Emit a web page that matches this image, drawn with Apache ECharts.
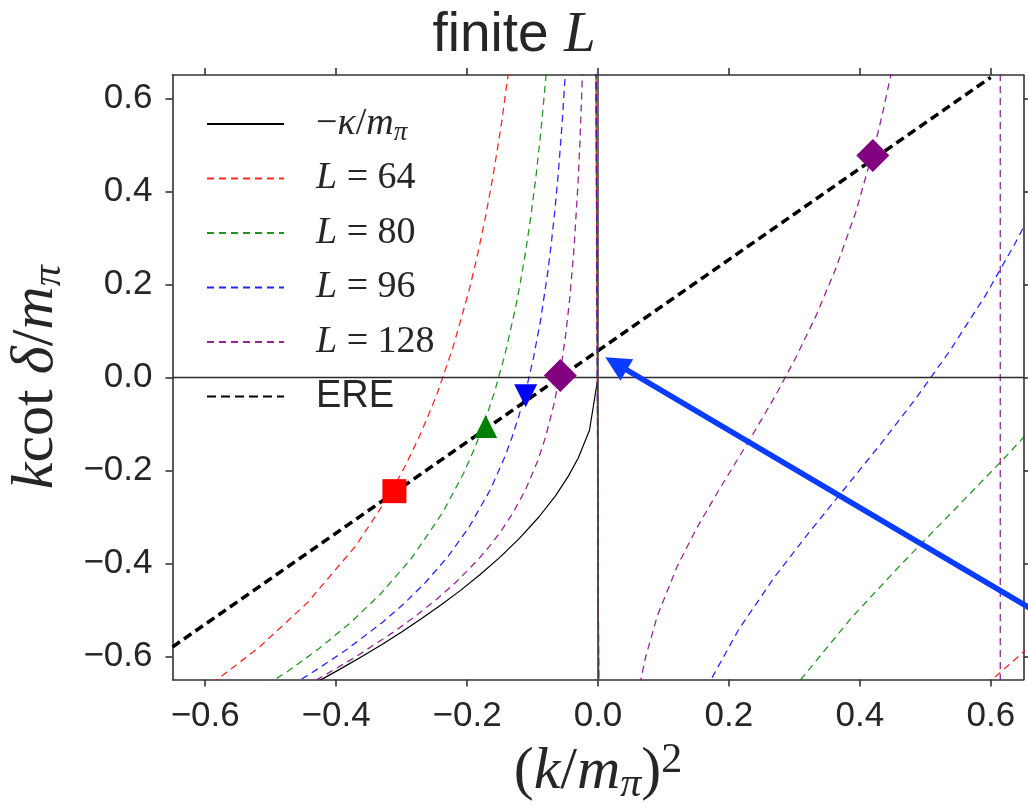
<!DOCTYPE html>
<html><head><meta charset="utf-8">
<script src="https://cdn.jsdelivr.net/npm/echarts@6/dist/echarts.min.js"></script>
<style>html,body{margin:0;padding:0;background:#fff}#c{width:1028px;height:804px}</style>
</head><body><div id="c"></div>
<script>
// ---------------- data ----------------
const xTicks = [-0.6, -0.4, -0.2, 0.0, 0.2, 0.4, 0.6];
const yTicks = [-0.6, -0.4, -0.2, 0.0, 0.2, 0.4, 0.6];
const seriesNames = ['kappa', 'L64', 'L80', 'L96', 'L128', 'ERE'];
const legendLabels = {
  kappa: '{r|−}{i|κ}{r|/}{i|m}{s|π}',
  L64: '{i|L}{r| = 64}',
  L80: '{i|L}{r| = 80}',
  L96: '{i|L}{r| = 96}',
  L128: '{i|L}{r| = 128}',
  ERE: '{ss|ERE}'
};
// -kappa / m_pi
const kappaX = [-0.45,-0.42,-0.39,-0.36,-0.33,-0.30,-0.27,-0.24,-0.21,-0.18,-0.15,-0.12,-0.09,-0.065,-0.045,-0.03,-0.013,0];
const kappaY = [-0.6708,-0.6481,-0.6245,-0.6,-0.5745,-0.5477,-0.5196,-0.4899,-0.4583,-0.4243,-0.3873,-0.3464,-0.3,-0.255,-0.2121,-0.1732,-0.114,0];
// L = 64
const curveL64 = [[-0.6662,-0.7298],[-0.5922,-0.6612],[-0.5182,-0.5815],[-0.4441,-0.4851],[-0.3701,-0.3627],[-0.3208,-0.2580],[-0.2961,-0.1953],[-0.2714,-0.1232],[-0.2467,-0.0389],[-0.2221,0.0615],[-0.1974,0.1842],[-0.1851,0.2566],[-0.1727,0.3385],[-0.1604,0.4321],[-0.1480,0.5403],[-0.1357,0.6671],[-0.1234,0.8189],
  [-0.005,1.3],[0.003,-1.3],
  [0.5815,-0.6768],[0.6058,-0.6457],[0.6542,-0.5855]];
// L = 80
const curveL80 = [[-0.5527,-0.7028],[-0.4737,-0.6322],[-0.4264,-0.5838],[-0.3790,-0.5290],[-0.3316,-0.4652],[-0.2842,-0.3881],[-0.2369,-0.2902],[-0.2053,-0.2064],[-0.1895,-0.1562],[-0.1737,-0.0985],[-0.1579,-0.0311],[-0.1421,0.0492],[-0.1263,0.1473],[-0.1184,0.2053],[-0.1105,0.2708],[-0.1026,0.3457],[-0.0947,0.4323],[-0.0869,0.5337],[-0.0790,0.6551],[-0.0711,0.8009],
  [-0.005,1.3],[0.003,-1.3],
  [0.2326,-0.8202],[0.3101,-0.6495],[0.3877,-0.5165],[0.4652,-0.3992],[0.5428,-0.2872],[0.6203,-0.1746],[0.6978,-0.0568]];
// L = 96
const curveL96 = [[-0.5483,-0.7255],[-0.4935,-0.6832],[-0.4386,-0.6370],[-0.3838,-0.5856],[-0.3290,-0.5269],[-0.2961,-0.4865],[-0.2632,-0.4408],[-0.2303,-0.3876],[-0.1974,-0.3234],[-0.1645,-0.2418],[-0.1426,-0.1720],[-0.1316,-0.1302],[-0.1206,-0.0821],[-0.1097,-0.0260],[-0.0987,0.0410],[-0.0877,0.1228],[-0.0768,0.2257],[-0.0713,0.2881],[-0.0658,0.3602],[-0.0603,0.4447],[-0.0548,0.5459],[-0.0493,0.6674],[-0.0439,0.8190],
  [-0.005,1.3],[0.003,-1.3],
  [0.1615,-0.6835],[0.1723,-0.6509],[0.2154,-0.5413],[0.2693,-0.4304],[0.3231,-0.3326],[0.3769,-0.2393],[0.4307,-0.1455],[0.4846,-0.0473],[0.5384,0.0587],[0.5922,0.1767],[0.6354,0.2834],[0.6462,0.3122],[0.6569,0.3421]];
// L = 128
const curveL128 = [[-0.4626,-0.6764],[-0.4318,-0.6525],[-0.3701,-0.6013],[-0.3084,-0.5442],[-0.2776,-0.5124],[-0.2467,-0.4778],[-0.2159,-0.4392],[-0.1851,-0.3951],[-0.1665,-0.3649],[-0.1480,-0.3306],[-0.1295,-0.2907],[-0.1110,-0.2426],[-0.0925,-0.1814],[-0.0802,-0.1290],[-0.0679,-0.0616],[-0.0617,-0.0195],[-0.0555,0.0308],[-0.0493,0.0921],[-0.0432,0.1693],[-0.0370,0.2702],[-0.0308,0.4094],[-0.0278,0.5006],[-0.0247,0.6143],[-0.0216,0.7595],
  [-0.005,1.3],[0.003,-1.3],
  [0.0606,-0.6831],[0.0727,-0.6019],[0.0908,-0.5126],[0.1212,-0.4060],[0.1514,-0.3228],[0.1818,-0.2495],[0.2120,-0.1795],[0.2423,-0.1091],[0.2726,-0.0355],[0.3028,0.0440],[0.3332,0.1325],[0.3634,0.2342],[0.3938,0.3550],[0.4240,0.5047],[0.4361,0.5762],[0.4483,0.6566],[0.4846,0.9775],
  [0.6140,60],[0.6150,-60],[0.6477,-4.8]];
// effective range expansion
const ereX = [-0.65, 0.6];
const ereY = [-0.58, 0.645];
// markers
const squarePts = [[-0.311, -0.245]];
const triUpPts = [[-0.1716, -0.106]];
const triDownPts = [[-0.1105, -0.040]];
const diamondPts = [[-0.0576, 0.004], [0.4198, 0.4768]];
// annotation arrow (tail, head centre)
const arrowTail = [0.706, -0.535];
const arrowHead = [0.0276, 0.0292];

// ---------------- chart ----------------
const zip = (xs, ys) => xs.map((x, i) => [x, ys[i]]);
const fmt = v => (v < 0 ? '−' : '') + Math.abs(v).toFixed(1);
const SERIF = 'Liberation Serif';
const SANS = 'Liberation Sans';
const TXT = '#262626';
const FRAME = '#333333';

function mathRich(fs, lh, sfs, sh, suph) {
  return {
    r: {fontFamily: SERIF, fontSize: fs, lineHeight: lh, color: TXT, fontWeight: 'normal'},
    i: {fontFamily: SERIF, fontStyle: 'italic', fontSize: fs, lineHeight: lh, color: TXT, fontWeight: 'normal'},
    s: {fontFamily: SERIF, fontStyle: 'italic', fontSize: sfs, lineHeight: sh, verticalAlign: 'bottom', color: TXT, fontWeight: 'normal'},
    p: {fontFamily: SERIF, fontSize: sfs, lineHeight: suph, verticalAlign: 'top', color: TXT, fontWeight: 'normal'},
    ss: {fontFamily: SANS, fontSize: fs, lineHeight: lh, color: TXT, fontWeight: 'normal'}
  };
}

function curve(name, data, color) {
  return {
    type: 'line', name, data, symbol: 'none', showSymbol: false, clip: true,
    silent: true, animation: false, z: 2,
    lineStyle: {color, width: 1.3, type: [7, 5], opacity: 0.85},
    itemStyle: {color}
  };
}

const axisCommon = {
  type: 'value', min: -0.65, max: 0.65,
  axisLine: {show: true, onZero: false, lineStyle: {color: FRAME, width: 1.6}},
  splitLine: {show: false}
};

const option = {
  backgroundColor: '#ffffff',
  animation: false,
  title: {
    text: '{s|finite }{i|L}', left: 'center', top: 6, padding: [0, 0, 0, 168],
    textStyle: {fontWeight: 'normal', rich: {
      s: {fontFamily: SANS, fontSize: 55, lineHeight: 60, color: TXT, fontWeight: 'normal'},
      i: {fontFamily: SERIF, fontStyle: 'italic', fontSize: 57, lineHeight: 60, color: TXT, fontWeight: 'normal'}
    }}
  },
  grid: {left: 172.5, top: 75, width: 851, height: 604.5, containLabel: false, outerBoundsMode: 'none'},
  legend: {
    data: seriesNames, orient: 'vertical', left: 206, top: 102, padding: 0,
    itemWidth: 77, itemHeight: 14, itemGap: 10.5, selectedMode: false,
    itemStyle: {opacity: 0, borderWidth: 0},
    formatter: n => legendLabels[n],
    textStyle: {padding: [0, 0, 0, 27], color: TXT, fontSize: 38, lineHeight: 44,
      rich: mathRich(38, 44, 27, 22, 20)}
  },
  xAxis: [
    Object.assign({}, axisCommon, {
      position: 'bottom',
      axisTick: {show: true, inside: false, length: 7, customValues: xTicks, lineStyle: {color: FRAME, width: 1.6}},
      axisLabel: {customValues: xTicks, formatter: fmt, fontFamily: SANS, fontSize: 35, color: TXT, margin: 19},
      name: '{r|(}{i|k}{r|/}{i|m}{s|π}{r|)}{p|2}', nameLocation: 'middle', nameGap: 60, nameMoveOverlap: false,
      nameTextStyle: {rich: mathRich(60, 66, 42, 32, 36)}
    }),
    Object.assign({}, axisCommon, {
      position: 'top',
      axisTick: {show: true, inside: false, length: 7, customValues: xTicks, lineStyle: {color: FRAME, width: 1.6}},
      axisLabel: {show: false}
    })
  ],
  yAxis: [
    Object.assign({}, axisCommon, {
      position: 'left',
      axisTick: {show: true, inside: false, length: 7, customValues: yTicks, lineStyle: {color: FRAME, width: 1.6}},
      axisLabel: {customValues: yTicks, formatter: fmt, fontFamily: SANS, fontSize: 35, color: TXT, margin: 20},
      name: '{i|k}{r|cot }{i|δ}{r|/}{i|m}{s|π}', nameLocation: 'middle', nameGap: 103, nameRotate: 90, nameMoveOverlap: false,
      nameTextStyle: {rich: mathRich(60, 66, 42, 32, 36)}
    }),
    Object.assign({}, axisCommon, {
      position: 'right',
      axisTick: {show: true, inside: false, length: 7, customValues: yTicks, lineStyle: {color: FRAME, width: 1.6}},
      axisLabel: {show: false}
    })
  ],
  series: [
    {
      type: 'line', name: 'kappa', data: zip(kappaX, kappaY), symbol: 'none', showSymbol: false,
      clip: true, silent: true, z: 2,
      lineStyle: {color: '#000000', width: 1.2, type: 'solid'}, itemStyle: {color: '#000000'}
    },
    curve('L64', curveL64, '#ff0000'),
    curve('L80', curveL80, '#008000'),
    curve('L96', curveL96, '#0000ff'),
    curve('L128', curveL128, '#800080'),
    {
      type: 'line', name: 'ERE', data: zip(ereX, ereY), symbol: 'none', showSymbol: false,
      clip: true, silent: true, z: 3,
      lineStyle: {color: '#000000', width: 3.5, type: [9, 5]}, itemStyle: {color: '#000000'}
    },
    {type: 'scatter', name: 'sq', data: squarePts, symbol: 'rect', symbolSize: 24, itemStyle: {color: '#ff0000', opacity: 1}, z: 5, silent: true},
    {type: 'scatter', name: 'tu', data: triUpPts, symbol: 'triangle', symbolSize: 23, itemStyle: {color: '#008000', opacity: 1}, z: 5, silent: true},
    {type: 'scatter', name: 'td', data: triDownPts, symbol: 'triangle', symbolRotate: 180, symbolSize: 23, itemStyle: {color: '#0000ff', opacity: 1}, z: 5, silent: true},
    {type: 'scatter', name: 'dm', data: diamondPts, symbol: 'diamond', symbolSize: 33, itemStyle: {color: '#800080', opacity: 1}, z: 5, silent: true},
    {
      type: 'line', name: 'annot', data: [], clip: false, silent: true, z: 1,
      markLine: {
        silent: true, animation: false, symbol: ['none', 'none'], label: {show: false},
        emphasis: {disabled: true},
        data: [
          {yAxis: 0, lineStyle: {color: '#2a2a2a', width: 1.3, type: 'solid'}},
          {xAxis: 0, lineStyle: {color: '#444444', width: 1.6, type: 'solid'}}
        ]
      }
    },
    {
      type: 'lines', name: 'arrow', coordinateSystem: 'cartesian2d', xAxisIndex: 0, yAxisIndex: 0,
      clip: false, silent: true, z: 10, animation: false,
      symbol: ['none', 'triangle'], symbolSize: 25,
      lineStyle: {color: '#0a3cff', width: 5.5, type: 'solid', opacity: 1, curveness: 0},
      data: [{coords: [arrowTail, arrowHead]}]
    }
  ]
};

const chart = echarts.init(document.getElementById('c'), null, {renderer: 'canvas'});
chart.setOption(option);
</script>
</body></html>
